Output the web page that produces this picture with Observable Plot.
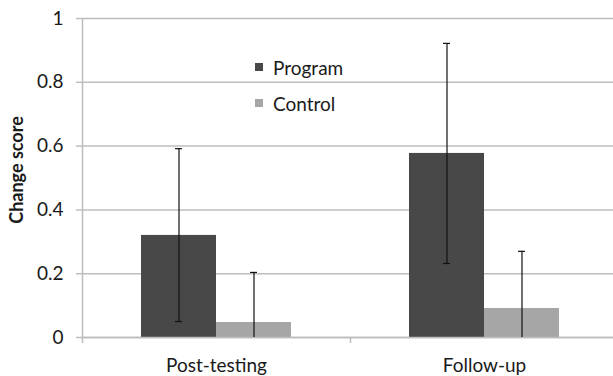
<!DOCTYPE html>
<html><head><meta charset="utf-8">
<script src="https://cdn.jsdelivr.net/npm/d3@7"></script>
<script src="https://cdn.jsdelivr.net/npm/@observablehq/plot@0.6"></script>
<style>
body{margin:0;background:#fff;}
#wrap{position:relative;width:613px;height:376px;overflow:hidden;font-family:Lato,sans-serif;}
#legend{position:absolute;left:255px;top:49px;font-size:19px;color:#1a1a1a;}
#legend .row{display:flex;align-items:center;height:36px;}
#legend .sw{width:8px;height:8px;margin-right:10px;}
</style></head><body><div id="wrap"><div id="legend"></div></div>
<script>
const categories = ["Post-testing", "Follow-up"];
const series = ["Program", "Control"];
const programMean = [0.32, 0.577];
const programLow = [0.05, 0.232];
const programHigh = [0.592, 0.922];
const controlMean = [0.047, 0.091];
const controlLow = [0, 0];
const controlHigh = [0.204, 0.27];
const yTicks = [0, 0.2, 0.4, 0.6, 0.8, 1];
const colors = ["#484848", "#a6a6a6"];
const gridColor = "#bdbdbd";

const rows = [];
categories.forEach((c, i) => {
  rows.push({category: c, series: series[0], mean: programMean[i], lo: programLow[i], hi: programHigh[i]});
  rows.push({category: c, series: series[1], mean: controlMean[i], lo: controlLow[i], hi: controlHigh[i]});
});

const chart = Plot.plot({
  width: 613, height: 376,
  marginTop: 18, marginBottom: 39, marginLeft: 82, marginRight: -5,
  style: {fontFamily: "Lato, sans-serif", background: "#fff", color: "#1a1a1a"},
  fx: {domain: categories, padding: 0, axis: null, label: null},
  x: {domain: series, paddingInner: 0, paddingOuter: 0.775, axis: null},
  y: {domain: [0, 1], axis: null},
  color: {domain: series, range: colors},
  marks: [
    Plot.gridY(yTicks, {stroke: gridColor, strokeOpacity: 1, strokeWidth: 1.5}),
    Plot.gridFx({facetAnchor: "left", dx: -134, stroke: gridColor, strokeOpacity: 1, strokeWidth: 1.5}),
    Plot.axisFx({anchor: "bottom", text: null, tickSize: 6, dx: -134, stroke: gridColor, strokeWidth: 1.5, label: null}),
    Plot.axisY(yTicks, {tickSize: 6, tickPadding: 13, stroke: gridColor, strokeWidth: 1.5, fontSize: 19, fill: "#1a1a1a", label: null, tickFormat: d => String(d)}),
    Plot.text(["Change score"], {fx: () => categories[0], frameAnchor: "left", textAnchor: "middle", dx: -65, dy: -8, rotate: -90, fontWeight: "bold", fontSize: 18, fill: "#1a1a1a"}),
    Plot.axisFx({anchor: "bottom", tickSize: 0, tickPadding: 21, fontSize: 19, fill: "#1a1a1a", label: null}),
    Plot.barY(rows, {fx: "category", x: "series", y: "mean", fill: "series"}),
    Plot.ruleY([0], {stroke: gridColor, strokeWidth: 1.5}),
    Plot.ruleX(rows, {fx: "category", x: "series", y1: "lo", y2: "hi", stroke: "#111", strokeWidth: 1.2}),
    Plot.tickY(rows, {fx: "category", x: "series", y: "hi", insetLeft: 34, insetRight: 34, stroke: "#111", strokeWidth: 1.2}),
    Plot.tickY(rows.filter(d => d.lo > 0), {fx: "category", x: "series", y: "lo", insetLeft: 34, insetRight: 34, stroke: "#111", strokeWidth: 1.2})
  ]
});
document.getElementById("wrap").prepend(chart);

const legend = document.getElementById("legend");
series.forEach((s, i) => {
  const row = document.createElement("div");
  row.className = "row";
  const sw = document.createElement("span");
  sw.className = "sw";
  sw.style.background = colors[i];
  const t = document.createElement("span");
  t.textContent = s;
  row.append(sw, t);
  legend.append(row);
});
</script></body></html>
